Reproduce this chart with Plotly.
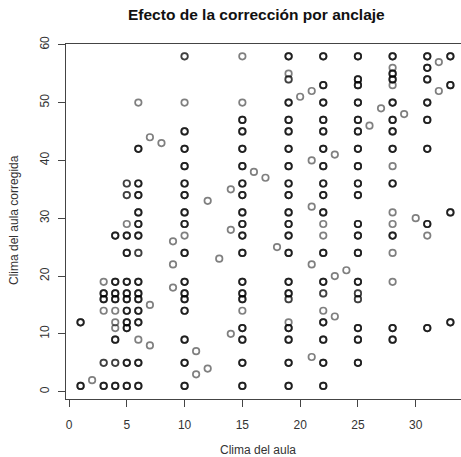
import plotly.graph_objects as go

# (x, y, overlap count) read column by column
clima_aula = (
    [1, 1] + [2] +
    [3] * 6 +
    [4] * 10 +
    [5] * 13 +
    [6] * 16 +
    [7] * 3 + [8] + [9] * 3 +
    [10] * 18 +
    [11] * 2 + [12] * 2 + [13] + [14] * 3 +
    [15] * 20 +
    [16, 17, 18] +
    [19] * 22 +
    [20] + [21] * 5 +
    [22] * 20 +
    [23] * 3 + [24] +
    [25] * 19 +
    [26, 27] +
    [28] * 18 +
    [29, 30] +
    [31] * 9 +
    [32] * 2 +
    [33] * 4
)
clima_corregida = (
    [12, 1] + [2] +
    [19, 17, 16, 14, 5, 1] +
    [27, 19, 17, 16, 14, 12, 11, 9, 5, 1] +
    [36, 34, 29, 27, 24, 19, 17, 16, 14, 12, 11, 5, 1] +
    [50, 42, 36, 34, 31, 29, 27, 24, 19, 17, 16, 14, 12, 9, 5, 1] +
    [44, 15, 8] + [43] + [26, 22, 18] +
    [58, 50, 45, 42, 39, 36, 34, 31, 29, 27, 24, 19, 17, 16, 14, 9, 5, 1] +
    [7, 3] + [33, 4] + [23] + [35, 28, 10] +
    [58, 50, 47, 45, 42, 39, 36, 34, 31, 29, 27, 24, 19, 17, 16, 14, 11, 9, 5, 1] +
    [38, 37, 25] +
    [58, 55, 54, 50, 47, 45, 42, 39, 36, 34, 31, 29, 27, 24, 19, 17, 16, 12, 11, 9, 5, 1] +
    [51] + [52, 40, 32, 22, 6] +
    [58, 53, 50, 47, 45, 42, 39, 36, 34, 31, 29, 27, 24, 19, 17, 14, 12, 9, 5, 1] +
    [41, 20, 13] + [21] +
    [58, 54, 53, 50, 47, 45, 42, 39, 36, 34, 29, 27, 24, 19, 17, 16, 11, 9, 5] +
    [46, 49] +
    [58, 56, 55, 54, 53, 50, 47, 45, 42, 39, 36, 31, 29, 27, 24, 19, 11, 9] +
    [48, 30] +
    [58, 56, 54, 50, 47, 42, 29, 27, 11] +
    [57, 52] +
    [58, 53, 31, 12]
)
repeticiones = (
    [3, 3] + [1] +
    [1, 3, 3, 1, 2, 3] +
    [3, 3, 3, 3, 1, 1, 1, 3, 2, 3] +
    [2, 2, 1, 3, 3, 3, 3, 3, 3, 3, 3, 3, 3] +
    [1, 3, 3, 3, 3, 3, 3, 2, 3, 3, 3, 3, 3, 1, 3, 3] +
    [1, 1, 1] + [1] + [1, 1, 1] +
    [2, 1, 3, 3, 3, 3, 3, 3, 3, 1, 3, 3, 3, 3, 3, 3, 3, 3] +
    [1, 1] + [1, 1] + [1] + [1, 1, 1] +
    [1, 1, 3, 3, 3, 3, 3, 3, 3, 3, 3, 3, 3, 3, 3, 1, 3, 3, 3, 3] +
    [1, 1, 1] +
    [3, 1, 2, 3, 3, 3, 3, 3, 3, 3, 3, 3, 3, 3, 3, 3, 2, 1, 3, 3, 3, 3] +
    [1] + [1, 1, 1, 1, 1] +
    [3, 3, 3, 3, 3, 3, 3, 3, 3, 3, 1, 1, 3, 3, 2, 1, 3, 3, 3, 3] +
    [1, 1, 1] + [1] +
    [3, 3, 3, 3, 3, 3, 3, 3, 3, 3, 3, 3, 3, 3, 2, 2, 3, 3, 3] +
    [1, 1] +
    [3, 1, 3, 3, 1, 3, 3, 3, 3, 1, 3, 1, 1, 3, 1, 1, 3, 3] +
    [1, 1] +
    [3, 3, 3, 3, 3, 3, 3, 1, 3] +
    [1, 1] +
    [3, 3, 3, 3]
)

x_ticks = [0, 5, 10, 15, 20, 25, 30]
y_ticks = [0, 10, 20, 30, 40, 50, 60]

# expand overlapping points so semi-transparent markers stack
xs, ys = [], []
for xv, yv, n in zip(clima_aula, clima_corregida, repeticiones):
    xs += [xv] * n
    ys += [yv] * n

fig = go.Figure(go.Scatter(
    x=xs, y=ys, mode="markers",
    marker=dict(symbol="circle-open", size=6.5, color="rgba(0,0,0,0.5)",
                line=dict(width=1.7)),
    hoverinfo="skip",
))

W, H = 461, 457
ml, mr, mt, mb = 66, 0, 44, 58
x0, ux = 69.0, 11.557
y0, uy = 391.7, 5.783

fig.update_layout(
    width=W, height=H,
    margin=dict(l=ml, r=mr, t=mt, b=mb),
    paper_bgcolor="white", plot_bgcolor="white",
    showlegend=False,
    font=dict(family="Liberation Sans, Arial, sans-serif", size=12, color="#222"),
    xaxis=dict(
        range=[(ml - x0) / ux, (W - mr - x0) / ux],
        tickvals=x_ticks, ticks="outside", ticklen=7, tickcolor="#444",
        ticklabelstandoff=8,
        showline=True, mirror=True, linecolor="#444", linewidth=1,
        showgrid=False, zeroline=False, tickfont=dict(size=12, color="#333"),
    ),
    yaxis=dict(
        range=[(y0 - (H - mb)) / uy, (y0 - mt) / uy],
        tickvals=y_ticks, ticks="outside", ticklen=7, tickcolor="#444",
        tickangle=-90, ticklabelstandoff=4,
        showline=True, linecolor="#444", linewidth=1,
        showgrid=False, zeroline=False, tickfont=dict(size=12, color="#333"),
    ),
    annotations=[
        dict(text="<b>Efecto de la corrección por anclaje</b>", xref="paper", yref="paper",
             x=(256 - ml) / (W - ml - mr), y=1 + (mt - 14) / (H - mt - mb),
             xanchor="center", yanchor="middle", showarrow=False,
             font=dict(size=15.5, color="#111")),
        dict(text="Clima del aula", xref="paper", yref="paper",
             x=(258 - ml) / (W - ml - mr), y=-(450 - (H - mb)) / (H - mt - mb),
             xanchor="center", yanchor="middle", showarrow=False,
             font=dict(size=12, color="#333")),
        dict(text="Clima del aula corregida", xref="paper", yref="paper",
             x=-(ml - 14) / (W - ml - mr), y=((H - mb) - 220) / (H - mt - mb),
             xanchor="center", yanchor="middle", showarrow=False, textangle=-90,
             font=dict(size=12, color="#333")),
    ],
)

fig.write_html("out.html")
